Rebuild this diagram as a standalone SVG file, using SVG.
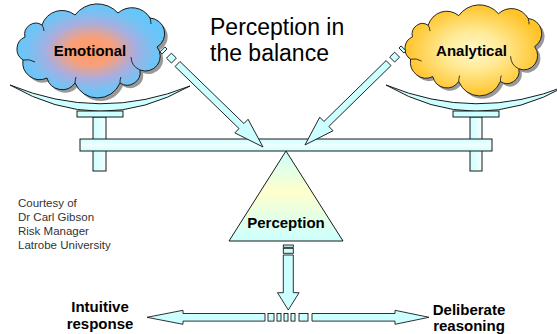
<svg xmlns="http://www.w3.org/2000/svg" xmlns:xlink="http://www.w3.org/1999/xlink" width="557" height="334" viewBox="0 0 557 334">
<style>
text{font-family:"Liberation Sans",Arial,sans-serif;fill:#000}
.lbl{font-size:15px;font-weight:bold;text-anchor:middle}
.title{font-size:23px}
.small{font-size:11.5px;fill:#333}
.ol{stroke:#1a1a1a;stroke-width:1}
.arr{fill:#CCFFFF;stroke:#1a1a1a;stroke-width:0.9}
.wr{fill:none;stroke:#1a1a1a;stroke-width:0.9}
</style>
<defs>
<radialGradient id="gEmo" cx="0.5" cy="0.5" r="0.5">
<stop offset="0" stop-color="#FF9966"/>
<stop offset="0.3" stop-color="#F8A07A"/>
<stop offset="0.6" stop-color="#A8AEE0"/>
<stop offset="0.85" stop-color="#74C2F4"/>
<stop offset="1" stop-color="#66C6FA"/>
</radialGradient>
<radialGradient id="gAna" cx="0.5" cy="0.5" r="0.5">
<stop offset="0" stop-color="#FFF8C8"/>
<stop offset="0.4" stop-color="#FFEB99"/>
<stop offset="1" stop-color="#FFC42A"/>
</radialGradient>
<linearGradient id="gTri" x1="0" y1="0" x2="0" y2="1">
<stop offset="0" stop-color="#CCFFFF"/>
<stop offset="0.45" stop-color="#FFFFCC"/>
<stop offset="1" stop-color="#CCFFFF"/>
</linearGradient>
<linearGradient id="gBeam" x1="0" y1="0" x2="0" y2="1">
<stop offset="0" stop-color="#CCFFFF"/>
<stop offset="0.5" stop-color="#F0FFFF"/>
<stop offset="1" stop-color="#CCFFFF"/>
</linearGradient>
<linearGradient id="gPost" x1="0" y1="0" x2="1" y2="0">
<stop offset="0" stop-color="#CCFFFF"/>
<stop offset="1" stop-color="#F4FFFF"/>
</linearGradient>
<path id="cloud" d="M25,37 A11.2,11.2 0 0 1 42,25 A21,21 0 0 1 75,15 A28,28 0 0 1 118,13 A21,21 0 0 1 150,18 A15.6,15.6 0 0 1 157,47 A14.8,14.8 0 0 1 140,70 A13,13 0 0 1 120,83 A24.4,24.4 0 0 1 75,83 A15.7,15.7 0 0 1 47,78 A17,17 0 0 1 23,60 A13,13 0 0 1 25,37 Z"/>
<path id="wrinkles" d="M42,25 A11.2,11.2 0 0 1 44,31 M150,18 A21,21 0 0 1 151,24 M140,70 A14.8,14.8 0 0 1 131,57 M120,83 A13,13 0 0 1 121,77 M75,83 A24.4,24.4 0 0 1 76,77 M23,60 A17,17 0 0 1 35,62"/>
</defs>

<g id="balance">
<path class="ol" fill="#CCFFFF" d="M10,85 Q100,137 190,86 Q100,122 10,85 Z"/>
<path class="ol" fill="#CCFFFF" d="M386,85 Q476,137 566,86 Q476,122 386,85 Z"/>
</g>

<g id="node-emotional">
<use xlink:href="#cloud" href="#cloud" fill="#999" transform="translate(3,3)"/>
<use xlink:href="#cloud" href="#cloud" fill="url(#gEmo)" class="ol"/>
<use xlink:href="#wrinkles" href="#wrinkles" class="wr"/>
<text class="lbl" x="90" y="55.5">Emotional</text>
</g>

<g id="node-analytical">
<g transform="translate(405,4) scale(0.926,0.968) translate(-17,-3)">
<use xlink:href="#cloud" href="#cloud" fill="#999" transform="translate(3,3)"/>
<use xlink:href="#cloud" href="#cloud" fill="url(#gAna)" class="ol"/>
<use xlink:href="#wrinkles" href="#wrinkles" class="wr"/>
</g>
<text class="lbl" x="471.5" y="56">Analytical</text>
</g>

<g id="scale-frame">
<rect class="ol" fill="url(#gPost)" x="93" y="117" width="13" height="54"/>
<rect class="ol" fill="url(#gPost)" x="470" y="117" width="12" height="54"/>
<rect class="ol" fill="#CCFFFF" x="77" y="111" width="46" height="6"/>
<rect class="ol" fill="#CCFFFF" x="453" y="111" width="46" height="6"/>
<rect class="ol" fill="url(#gBeam)" x="80" y="139" width="412" height="12"/>
</g>

<g id="node-perception">
<polygon class="ol" fill="url(#gTri)" points="286,151 229,241 343,241"/>
<text class="lbl" x="286" y="228">Perception</text>
</g>

<g id="connectors">
<g transform="translate(161,48) rotate(44.14)">
<rect class="arr" x="2" y="-3.5" width="3" height="7"/>
<rect class="arr" x="11" y="-3.5" width="7" height="7"/>
<path class="arr" d="M23,-3.5 H112.1 V-9.5 L142.1,0 L112.1,9.5 V3.5 H23 Z"/>
</g>
<g transform="translate(405,47) rotate(135.6)">
<rect class="arr" x="2" y="-3.5" width="3" height="7"/>
<rect class="arr" x="11" y="-3.5" width="7" height="7"/>
<path class="arr" d="M23,-3.5 H110 V-9.5 L140,0 L110,9.5 V3.5 H23 Z"/>
</g>
<rect class="arr" x="283.3" y="245" width="10" height="2.3"/>
<rect class="arr" x="283.3" y="248.3" width="10" height="5"/>
<path class="arr" d="M283.3,255 V292.7 H277.5 L288.3,310 L299.1,292.7 H293.3 V255 Z"/>
<path class="arr" d="M265,313.5 H183 V310.3 L147,317.3 L183,324.3 V321.1 H265 Z"/>
<rect class="arr" x="268" y="313.5" width="6" height="7.6"/>
<rect class="arr" x="277" y="313.5" width="4" height="7.6"/>
<rect class="arr" x="284" y="313.5" width="4" height="7.6"/>
<rect class="arr" x="291" y="313.5" width="4" height="7.6"/>
<rect class="arr" x="299" y="313.5" width="9" height="7.6"/>
<path class="arr" d="M312,313.5 H395 V310.3 L429,317.3 L395,324.3 V321.1 H312 Z"/>
</g>

<g id="title">
<text class="title" x="210" y="35">Perception in</text>
<text class="title" x="210" y="61">the balance</text>
</g>

<g id="credit">
<text class="small" x="18" y="207">Courtesy of</text>
<text class="small" x="18" y="221">Dr Carl Gibson</text>
<text class="small" x="18" y="235">Risk Manager</text>
<text class="small" x="18" y="249">Latrobe University</text>
</g>

<g id="node-intuitive">
<text class="lbl" x="100" y="312">Intuitive</text>
<text class="lbl" x="100" y="329">response</text>
</g>

<g id="node-deliberate">
<text class="lbl" x="469" y="315">Deliberate</text>
<text class="lbl" x="469" y="331">reasoning</text>
</g>
</svg>
